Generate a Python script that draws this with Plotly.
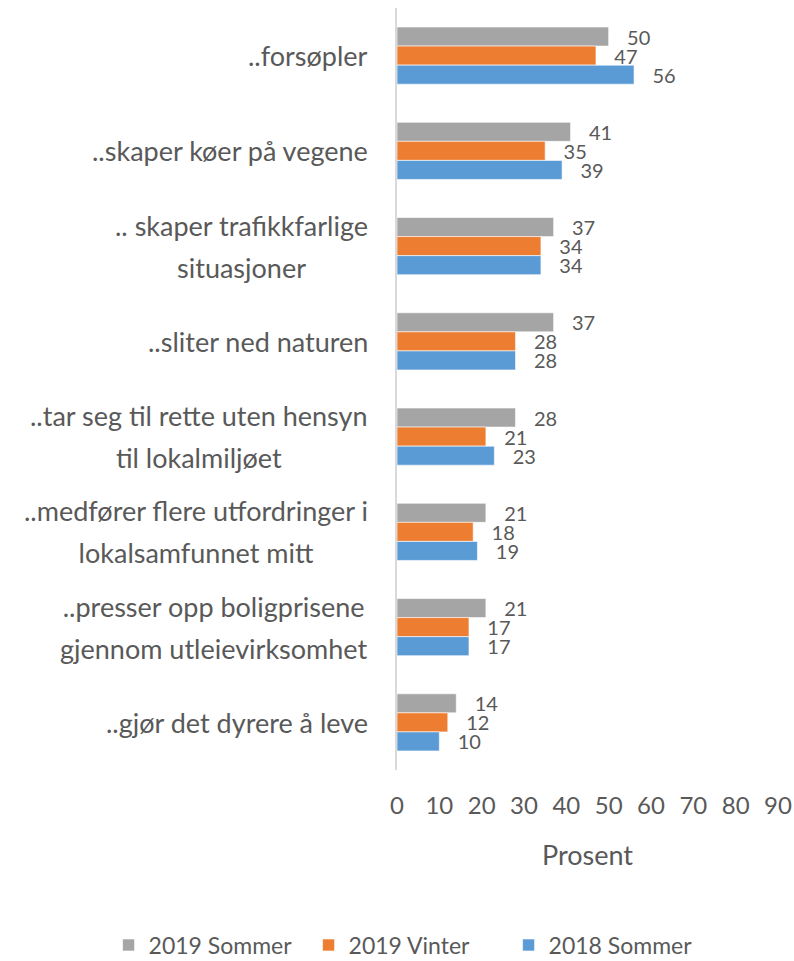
import plotly.graph_objects as go

categories = [
    "..forsøpler",
    "..skaper køer på vegene",
    ".. skaper trafikkfarlige<br>situasjoner",
    "..sliter ned naturen",
    "..tar seg til rette uten hensyn<br>til lokalmiljøet",
    "..medfører flere utfordringer i<br>lokalsamfunnet mitt",
    "..presser opp boligprisene<br>gjennom utleievirksomhet",
    "..gjør det dyrere å leve",
]
sommer_2019 = [50, 41, 37, 37, 28, 21, 21, 14]
vinter_2019 = [47, 35, 34, 28, 21, 18, 17, 12]
sommer_2018 = [56, 39, 34, 28, 23, 19, 17, 10]
x_ticks = [0, 10, 20, 30, 40, 50, 60, 70, 80, 90]

FONT = "Lato"
TXT = "#595959"
HIDE = "<span style='color:rgba(0,0,0,0)'>{}</span>"

series = [
    ("2019 Sommer", sommer_2019, "#A5A5A5"),
    ("2019 Vinter", vinter_2019, "#ED7D31"),
    ("2018 Sommer", sommer_2018, "#5B9BD5"),
]

fig = go.Figure()
for name, vals, col in series:
    fig.add_trace(go.Bar(
        y=categories, x=vals, name=name, orientation="h",
        marker=dict(color=col, line=dict(color="rgba(255,255,255,0.6)", width=1)),
        text=vals, texttemplate="\u00a0\u00a0\u00a0%{x}", textposition="outside",
        constraintext="none",
        textfont=dict(family=FONT, size=20, color=TXT),
        cliponaxis=False,
    ))

# category labels: centered multi-line blocks, right-aligned near the axis
annotations = []
for cat in categories:
    lines = cat.split("<br>")
    if len(lines) == 1:
        annotations.append(dict(
            x=0, xref="paper", y=cat, yref="y", text=cat, showarrow=False,
            xanchor="right", xshift=-27, align="center",
            font=dict(family=FONT, size=27, color=TXT),
        ))
    else:
        l1, l2 = lines
        for txt, shift in ((l1 + "<br>" + HIDE.format(l2), 3.5),
                           (HIDE.format(l1) + "<br>" + l2, -3.5)):
            annotations.append(dict(
                x=0, xref="paper", y=cat, yref="y", text=txt, showarrow=False,
                xanchor="right", xshift=-27, yshift=shift, align="center",
                font=dict(family=FONT, size=27, color=TXT),
            ))

fig.update_layout(
    width=794, height=961,
    margin=dict(l=397, r=16, t=8, b=191, autoexpand=False),
    paper_bgcolor="white", plot_bgcolor="white",
    barmode="group", bargap=0.40, bargroupgap=0,
    font=dict(family=FONT, color=TXT),
    xaxis=dict(range=[0, 90], tickvals=x_ticks, showgrid=False, zeroline=False,
               showline=False, ticks="", tickfont=dict(size=24, color=TXT),
               ticklabelstandoff=19,
               title=dict(text="Prosent", font=dict(size=27, color=TXT), standoff=28)),
    yaxis=dict(categoryorder="array", categoryarray=categories, autorange="reversed",
               showticklabels=False, showgrid=False, zeroline=False,
               showline=True, linecolor="#D9D9D9", linewidth=2, ticks=""),
    legend=dict(orientation="h", x=-0.757, xanchor="left", y=-0.2297, yanchor="middle",
                traceorder="normal", font=dict(size=23, color=TXT), itemwidth=30,
                entrywidth=155, entrywidthmode="pixels"),
    annotations=annotations,
    showlegend=True,
)
fig.write_html(
    "out.html",
    config={"displayModeBar": False},
    post_script="document.body.style.margin='0';document.body.style.overflow='hidden';",
)
